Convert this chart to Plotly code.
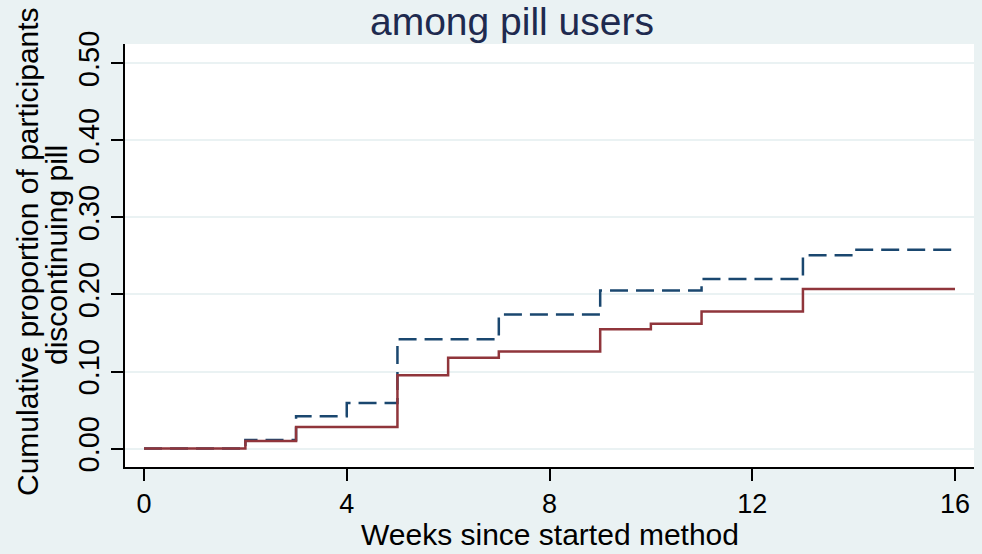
import plotly.graph_objects as go

weeks_dashed = [0, 2, 3, 4, 5, 7, 9, 11, 13, 14, 16]
prop_dashed = [0.0, 0.011, 0.042, 0.059, 0.142, 0.174, 0.205, 0.220, 0.251, 0.258, 0.258]

weeks_solid = [0, 2, 3, 5, 6, 7, 9, 10, 11, 13, 16]
prop_solid = [0.0, 0.010, 0.028, 0.095, 0.118, 0.126, 0.155, 0.162, 0.178, 0.207, 0.207]

x_ticks = [0, 4, 8, 12, 16]
y_ticks = [0.0, 0.1, 0.2, 0.3, 0.4, 0.5]
y_tick_labels = ["0.00", "0.10", "0.20", "0.30", "0.40", "0.50"]

title_text = "among pill users"
x_title = "Weeks since started method"
y_title_lines = ["Cumulative proportion of participants", "discontinuing pill"]

BG = "#EAF2F3"
FONT = "Liberation Sans, Arial, sans-serif"

W, H = 982, 554
L, R, T, B = 125, 8, 44, 87
PW, PH = W - L - R, H - T - B

fig = go.Figure()
fig.add_trace(go.Scatter(
    x=weeks_dashed, y=prop_dashed, mode="lines", line_shape="hv",
    line=dict(color="#1A476F", width=2.5, dash="18px,8px"), showlegend=False))
fig.add_trace(go.Scatter(
    x=weeks_solid, y=prop_solid, mode="lines", line_shape="hv",
    line=dict(color="#90353B", width=2.5), showlegend=False))

annotations = [
    dict(text=title_text, xref="paper", yref="paper",
         x=(512 - L) / PW, y=1 + (T - 21) / PH, xanchor="center", yanchor="middle",
         showarrow=False, font=dict(family=FONT, size=39, color="#1E2A4F")),
    dict(text=x_title, xref="paper", yref="paper",
         x=(550 - L) / PW, y=-(534 - (H - B)) / PH, xanchor="center", yanchor="middle",
         showarrow=False, font=dict(family=FONT, size=30, color="black")),
    dict(text=y_title_lines[0], xref="paper", yref="paper", textangle=-90,
         x=(27 - L) / PW, y=((H - B) - 252) / PH, xanchor="center", yanchor="middle",
         showarrow=False, font=dict(family=FONT, size=30, color="black")),
    dict(text=y_title_lines[1], xref="paper", yref="paper", textangle=-90,
         x=(56 - L) / PW, y=((H - B) - 255) / PH, xanchor="center", yanchor="middle",
         showarrow=False, font=dict(family=FONT, size=30, color="black")),
]

fig.update_layout(
    width=W, height=H,
    paper_bgcolor=BG, plot_bgcolor="white",
    margin=dict(l=L, r=R, t=T, b=B, autoexpand=False),
    font=dict(family=FONT, color="black", size=27),
    annotations=annotations,
)

fig.update_xaxes(
    range=[-0.375, 16.375], tickvals=x_ticks, ticktext=[str(v) for v in x_ticks],
    showgrid=False, zeroline=False, showline=True, linecolor="black", linewidth=2,
    ticks="outside", ticklen=12, tickwidth=2, tickcolor="black",
    tickfont=dict(size=27), automargin=False)

fig.update_yaxes(
    range=[-0.0239, 0.525], tickvals=y_ticks, ticktext=y_tick_labels,
    tickangle=-90, showgrid=True, gridcolor=BG, gridwidth=2,
    zeroline=False, showline=True, linecolor="black", linewidth=2,
    ticks="outside", ticklen=12, tickwidth=2, tickcolor="black",
    tickfont=dict(size=29), automargin=False)

fig.write_html(
    "out.html",
    config={"displayModeBar": False},
    post_script="document.body.style.margin='0';document.body.style.background='%s';" % BG,
)
